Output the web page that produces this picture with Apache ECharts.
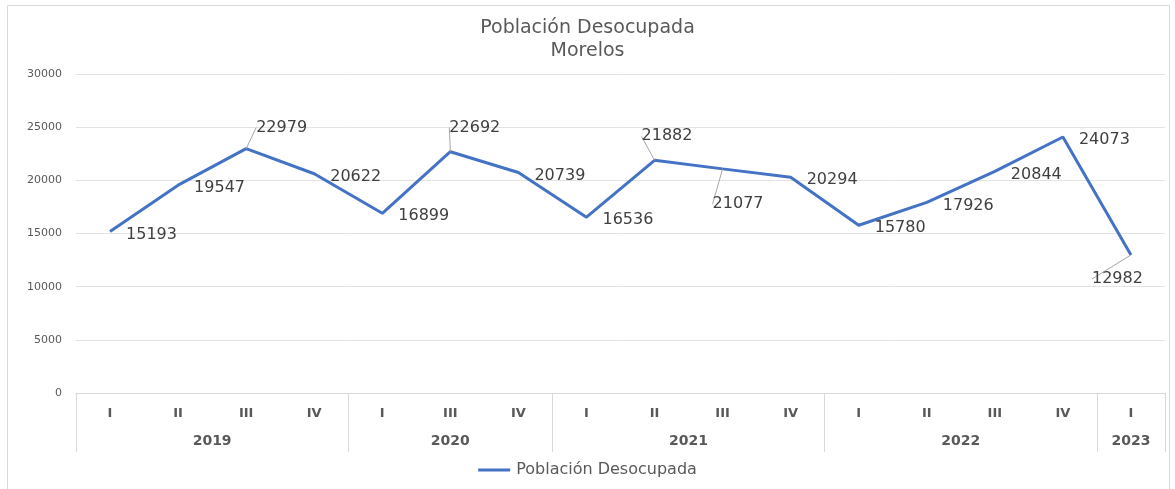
<!DOCTYPE html>
<html>
<head>
<meta charset="utf-8">
<script src="https://cdn.jsdelivr.net/npm/echarts@6/dist/echarts.min.js"></script>
<style>
  html, body { margin: 0; padding: 0; background: #fff; }
  #chart { width: 1175px; height: 489px; }
</style>
</head>
<body>
<div id="chart"></div>
<script>
// trimestres y años (2020 no tiene trimestre II en la fuente)
var quarters = ['I', 'II', 'III', 'IV', 'I', 'III', 'IV', 'I', 'II', 'III', 'IV', 'I', 'II', 'III', 'IV', 'I'];
var years = ['2019', '2020', '2021', '2022', '2023'];
var yearCounts = [4, 3, 4, 4, 1];
var desocupada = [15193, 19547, 22979, 20622, 16899, 22692, 20739, 16536, 21882, 21077, 20294, 15780, 17926, 20844, 24073, 12982];
var yTicks = [0, 5000, 10000, 15000, 20000, 25000, 30000];

// desplazamiento de cada etiqueta de datos (estilo, no datos)
var labelShift = {
    2: [-6, -21], 5: [-17, -24], 8: [-29, -24], 9: [-26, 35], 15: [-55, 24]
};

var FONT = '"DejaVu Sans", sans-serif';
var GRAY = '#595959';

// límites y centros de cada año sobre el eje de categorías
var bounds = [0], centers = [], acc = 0;
for (var i = 0; i < yearCounts.length; i++) {
    centers.push(acc + yearCounts[i] / 2);
    acc += yearCounts[i];
    bounds.push(acc);
}

var seriesData = desocupada.map(function (v, idx) {
    var item = { value: v };
    if (labelShift[idx]) {
        item.labelLine = { show: true };
    }
    return item;
});

var chart = echarts.init(document.getElementById('chart'));
chart.setOption({
    animation: false,
    title: {
        text: 'Población Desocupada\nMorelos',
        left: 'center',
        top: 12,
        textStyle: { fontFamily: FONT, fontSize: 19, fontWeight: 'normal', color: GRAY, lineHeight: 23 }
    },
    legend: {
        bottom: 6,
        left: 'center',
        icon: 'path://M0,0 L32,0 L32,3 L0,3 Z',
        itemWidth: 34,
        itemHeight: 3,
        itemGap: 4,
        textStyle: { fontFamily: FONT, fontSize: 16, color: GRAY },
        data: ['Población Desocupada']
    },
    graphic: [{
        type: 'rect',
        shape: { x: 7.5, y: 5.5, width: 1162, height: 490 },
        style: { fill: 'none', stroke: '#d9d9d9', lineWidth: 1 },
        silent: true
    }],
    grid: { left: 76, right: 10, top: 74, bottom: 96 },
    xAxis: [{
        type: 'category',
        data: quarters,
        axisLine: { lineStyle: { color: '#d9d9d9' } },
        axisTick: { show: false },
        axisLabel: { fontFamily: FONT, fontSize: 13, fontWeight: 'bold', color: GRAY, margin: 14 }
    }, {
        type: 'value',
        position: 'bottom',
        min: 0,
        max: quarters.length,
        axisLine: { show: false },
        splitLine: { show: false },
        axisTick: {
            show: true,
            customValues: bounds,
            length: 59,
            lineStyle: { color: '#d9d9d9' }
        },
        axisLabel: {
            customValues: centers,
            margin: 41,
            fontFamily: FONT, fontSize: 14, fontWeight: 'bold', color: GRAY,
            formatter: function (v) {
                var k = centers.indexOf(v);
                return k >= 0 ? years[k] : '';
            }
        }
    }],
    yAxis: {
        type: 'value',
        min: yTicks[0],
        max: yTicks[yTicks.length - 1],
        interval: yTicks[1] - yTicks[0],
        axisLine: { show: false },
        axisTick: { show: false },
        splitLine: { lineStyle: { color: '#e3e3e3' } },
        axisLabel: {
            fontFamily: FONT, fontSize: 11, color: GRAY, margin: 14,
            formatter: function (v) { return String(v); }
        }
    },
    series: [{
        name: 'Población Desocupada',
        type: 'line',
        xAxisIndex: 0,
        data: seriesData,
        symbol: 'circle',
        symbolSize: 0,
        showSymbol: true,
        lineStyle: { color: '#4472c4', width: 3 },
        itemStyle: { color: '#4472c4' },
        label: {
            show: true,
            position: 'right',
            distance: 16,
            fontFamily: FONT,
            fontSize: 16,
            color: '#404040'
        },
        labelLine: { show: false, lineStyle: { color: '#a6a6a6', width: 1 } },
        labelLayout: function (p) {
            var s = labelShift[p.dataIndex] || [0, 3];
            return { dx: s[0], dy: s[1] };
        }
    }]
});
</script>
</body>
</html>
